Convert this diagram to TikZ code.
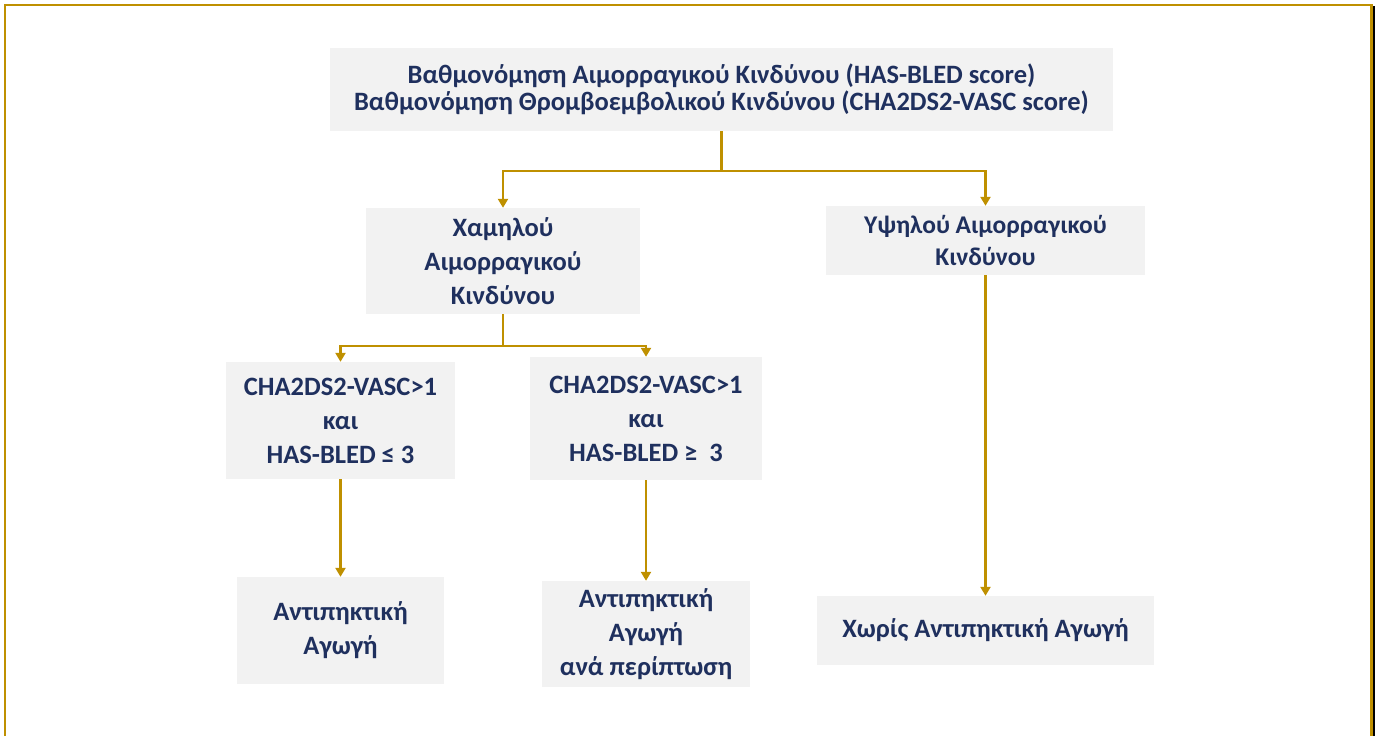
\documentclass[tikz,border=0pt]{standalone}
\usepackage{fontspec}
\setmainfont{Carlito}
\usetikzlibrary{arrows.meta}

\definecolor{gold}{RGB}{191,144,0}
\definecolor{navy}{RGB}{31,48,94}
\definecolor{boxgray}{RGB}{242,242,242}

\tikzset{
  box/.style={fill=boxgray, text=navy, align=center, inner sep=0pt,
              font=\bfseries\fontsize{26.5}{34}\selectfont},
  link/.style={draw=gold, line width=2.8pt, -{Triangle[width=10pt,length=9pt]}},
}

\begin{document}
\begin{tikzpicture}[x=1pt, y=-1pt]
    \useasboundingbox (0,0) rectangle (1375,736);

    % frame
    \fill[black] (1371,6) rectangle (1375,736);
    \draw[gold, line width=2.2pt] (5,736) -- (5,5) -- (1371.5,5) -- (1371.5,736);

    % boxes
    \node[box, minimum width=783pt, minimum height=83pt,
          font=\bfseries\fontsize{26.5}{27}\selectfont] (risk) at (721.5,89.5)
        {Βαθμονόμηση Αιμορραγικού Κινδύνου (HAS-BLED score)\\
         Βαθμονόμηση Θρομβοεμβολικού Κινδύνου (CHA2DS2-VASC score)};
    \node[box, minimum width=274pt, minimum height=106pt] (low) at (503,261)
        {Χαμηλού\\Αιμορραγικού\\Κινδύνου};
    \node[box, minimum width=319pt, minimum height=69pt,
          font=\bfseries\fontsize{25.5}{32}\selectfont] (high) at (985.5,240.5)
        {Υψηλού Αιμορραγικού\\Κινδύνου};
    \node[box, minimum width=229pt, minimum height=117pt] (chaL) at (340.5,420.5)
        {CHA2DS2-VASC>1\\και\\HAS-BLED ≤ 3};
    \node[box, minimum width=232pt, minimum height=123pt] (chaR) at (646,418.5)
        {CHA2DS2-VASC>1\\και\\HAS-BLED ≥\ \ 3};
    \node[box, minimum width=207pt, minimum height=107pt] (antL) at (340.5,630.5)
        {Αντιπηκτική\\Αγωγή};
    \node[box, minimum width=208pt, minimum height=106pt] (antR) at (646,634)
        {Αντιπηκτική\\Αγωγή\\ανά περίπτωση};
    \node[box, minimum width=337pt, minimum height=69pt] (none) at (985.5,630.5)
        {Χωρίς Αντιπηκτική Αγωγή};

    % connectors
    \coordinate (fork1) at (721.5,171);
    \coordinate (fork2) at (503,346);
    \draw[link] (risk.south) -- (fork1) -| (low.north);
    \draw[link] (risk.south) -- (fork1) -| (high.north);
    \draw[link] (low.south) -- (fork2) -| (chaL.north);
    \draw[link] (low.south) -- (fork2) -| (chaR.north);
    \draw[link] (chaL.south) -- (chaL.south |- antL.north);
    \draw[link] (chaR.south) -- (chaR.south |- antR.north);
    \draw[link] (high.south) -- (none.north);
\end{tikzpicture}
\end{document}
